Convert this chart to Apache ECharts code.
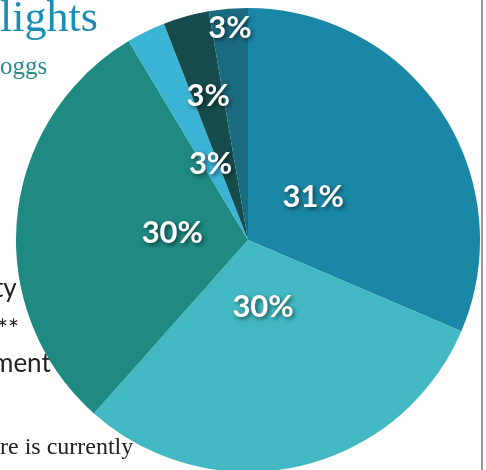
<!DOCTYPE html>
<html>
<head>
<meta charset="utf-8">
<script src="https://cdn.jsdelivr.net/npm/echarts@6/dist/echarts.min.js"></script>
<style>
  html, body { margin: 0; padding: 0; background: #fff; }
  #chart { width: 486px; height: 470px; }
</style>
</head>
<body>
<div id="chart"></div>
<script>
// slice shares, clockwise from 12 o'clock
const sliceNames = ['A', 'B', 'C', 'D', 'E', 'F']
const sliceValues = [31.4, 30.1, 29.8, 2.7, 3.2, 2.7]
const sliceColors = ['#1b87a6', '#42b9c2', '#1e8a82', '#3bb4d5', '#174c4d', '#1a6b80']
// how far from the centre each label sits (px)
const labelRadius = [78, 69, 76, 85, 149, 213]

const CX = 248
const CY = 240
const R = 232

const chart = echarts.init(document.getElementById('chart'))

chart.setOption({
  animation: false,
  graphic: [
    { type: 'text', left: 0, top: -3, style: { text: 'lights', font: '44px "Liberation Serif"', fill: '#1a8db6' } },
    { type: 'text', left: 0, top: 55, style: { text: 'oggs', font: '25px "Liberation Serif"', fill: '#2a8a8a' } },
    { type: 'text', left: -6, top: 276, style: { text: 'ty', font: '26px Lato', fill: '#222' } },
    { type: 'text', left: -3, top: 318, style: { text: '**', font: '26px Lato', fill: '#222' } },
    { type: 'text', left: -8, top: 351, style: { text: 'ment', font: '26px Lato', fill: '#222' } },
    { type: 'text', left: 0, top: 436, style: { text: 're is currently', font: '24px "Liberation Serif"', fill: '#222' } },
    { type: 'line', shape: { x1: 482, y1: 0, x2: 482, y2: 470 }, style: { stroke: '#999', lineWidth: 2 } }
  ],
  series: [{
    type: 'pie',
    center: [CX, CY],
    radius: [0, R],
    startAngle: 90,
    clockwise: true,
    avoidLabelOverlap: false,
    labelLine: { show: false },
    label: {
      show: true,
      position: 'inside',
      formatter: p => Math.round(p.percent) + '%',
      color: '#fff',
      fontFamily: 'Lato',
      fontWeight: 'bold',
      fontSize: 31,
      textShadowColor: 'rgba(0,0,0,0.55)',
      textShadowBlur: 4,
      textShadowOffsetX: 2,
      textShadowOffsetY: 2
    },
    labelLayout: function (params) {
      const r = params.labelRect
      const lx = r.x + r.width / 2 - CX
      const ly = r.y + r.height / 2 - CY
      const len = Math.sqrt(lx * lx + ly * ly) || 1
      const k = labelRadius[params.dataIndex] / len
      return { x: CX + lx * k, y: CY + ly * k }
    },
    data: sliceValues.map((v, i) => ({
      name: sliceNames[i],
      value: v,
      itemStyle: { color: sliceColors[i] }
    }))
  }]
})
</script>
</body>
</html>
